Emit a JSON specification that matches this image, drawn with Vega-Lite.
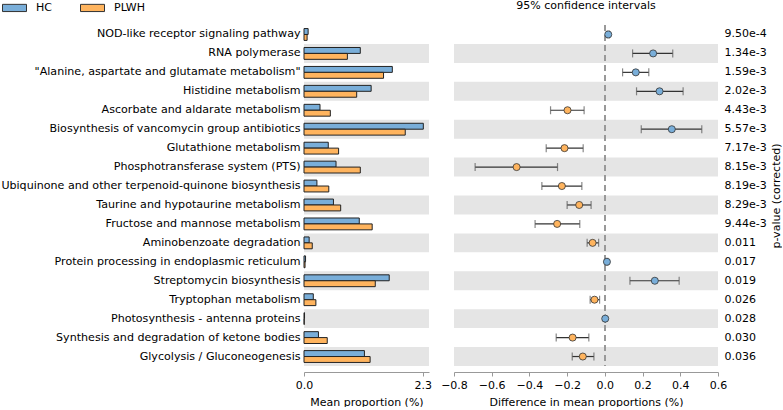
{
  "$schema": "https://vega.github.io/schema/vega-lite/v6.json",
  "padding": 0,
  "bounds": "flush",
  "config": {
    "font": "DejaVu Sans",
    "view": {"stroke": null},
    "concat": {"spacing": 25},
    "axis": {"labelColor": "#000", "titleColor": "#000", "labelFontSize": 11, "titleFontSize": 11, "titleFontWeight": "normal", "grid": false, "domainColor": "#999", "tickColor": "#999", "labelOverlap": false, "labelFlush": false},
    "legend": {"labelFontSize": 11, "labelColor": "#000"},
    "title": {"fontSize": 11, "fontWeight": "normal", "color": "#000"}
  },
  "datasets": {
    "d": [
      {"rank": 1, "pathway": "NOD-like receptor signaling pathway", "HC": 0.08, "PLWH": 0.06, "diff": 0.018, "lo": 0.012, "hi": 0.024, "p": "9.50e-4", "enriched": "HC"},
      {"rank": 2, "pathway": "RNA polymerase", "HC": 1.09, "PLWH": 0.84, "diff": 0.256, "lo": 0.147, "hi": 0.36, "p": "1.34e-3", "enriched": "HC"},
      {"rank": 3, "pathway": "\"Alanine, aspartate and glutamate metabolism\"", "HC": 1.71, "PLWH": 1.54, "diff": 0.164, "lo": 0.094, "hi": 0.233, "p": "1.59e-3", "enriched": "HC"},
      {"rank": 4, "pathway": "Histidine metabolism", "HC": 1.30, "PLWH": 1.02, "diff": 0.29, "lo": 0.168, "hi": 0.415, "p": "2.02e-3", "enriched": "HC"},
      {"rank": 5, "pathway": "Ascorbate and aldarate metabolism", "HC": 0.31, "PLWH": 0.51, "diff": -0.198, "lo": -0.288, "hi": -0.11, "p": "4.43e-3", "enriched": "PLWH"},
      {"rank": 6, "pathway": "Biosynthesis of vancomycin group antibiotics", "HC": 2.31, "PLWH": 1.96, "diff": 0.355, "lo": 0.193, "hi": 0.514, "p": "5.57e-3", "enriched": "HC"},
      {"rank": 7, "pathway": "Glutathione metabolism", "HC": 0.47, "PLWH": 0.67, "diff": -0.214, "lo": -0.311, "hi": -0.115, "p": "7.17e-3", "enriched": "PLWH"},
      {"rank": 8, "pathway": "Phosphotransferase system (PTS)", "HC": 0.62, "PLWH": 1.09, "diff": -0.468, "lo": -0.688, "hi": -0.251, "p": "8.15e-3", "enriched": "PLWH"},
      {"rank": 9, "pathway": "Ubiquinone and other terpenoid-quinone biosynthesis", "HC": 0.25, "PLWH": 0.48, "diff": -0.228, "lo": -0.334, "hi": -0.122, "p": "8.19e-3", "enriched": "PLWH"},
      {"rank": 10, "pathway": "Taurine and hypotaurine metabolism", "HC": 0.57, "PLWH": 0.71, "diff": -0.136, "lo": -0.2, "hi": -0.073, "p": "8.29e-3", "enriched": "PLWH"},
      {"rank": 11, "pathway": "Fructose and mannose metabolism", "HC": 1.07, "PLWH": 1.32, "diff": -0.253, "lo": -0.37, "hi": -0.133, "p": "9.44e-3", "enriched": "PLWH"},
      {"rank": 12, "pathway": "Aminobenzoate degradation", "HC": 0.10, "PLWH": 0.16, "diff": -0.065, "lo": -0.094, "hi": -0.033, "p": "0.011", "enriched": "PLWH"},
      {"rank": 13, "pathway": "Protein processing in endoplasmic reticulum", "HC": 0.03, "PLWH": 0.02, "diff": 0.011, "lo": 0.006, "hi": 0.016, "p": "0.017", "enriched": "HC"},
      {"rank": 14, "pathway": "Streptomycin biosynthesis", "HC": 1.65, "PLWH": 1.38, "diff": 0.265, "lo": 0.133, "hi": 0.394, "p": "0.019", "enriched": "HC"},
      {"rank": 15, "pathway": "Tryptophan metabolism", "HC": 0.18, "PLWH": 0.23, "diff": -0.055, "lo": -0.078, "hi": -0.028, "p": "0.026", "enriched": "PLWH"},
      {"rank": 16, "pathway": "Photosynthesis - antenna proteins", "HC": 0.01, "PLWH": 0.005, "diff": 0.002, "lo": 0.001, "hi": 0.003, "p": "0.028", "enriched": "HC"},
      {"rank": 17, "pathway": "Synthesis and degradation of ketone bodies", "HC": 0.28, "PLWH": 0.45, "diff": -0.171, "lo": -0.258, "hi": -0.085, "p": "0.030", "enriched": "PLWH"},
      {"rank": 18, "pathway": "Glycolysis / Gluconeogenesis", "HC": 1.17, "PLWH": 1.28, "diff": -0.117, "lo": -0.173, "hi": -0.058, "p": "0.036", "enriched": "PLWH"}
    ]
  },
  "data": {"name": "d"},
  "hconcat": [
    {
      "width": 125,
      "height": 341,
      "encoding": {
        "y": {
          "field": "pathway", "type": "nominal",
          "sort": {"field": "rank", "op": "min", "order": "ascending"},
          "scale": {"paddingInner": 0, "paddingOuter": 0},
          "axis": {"title": null, "domain": false, "ticks": false, "labelPadding": 4, "labelLimit": 0, "labelFontSize": 11.1}
        }
      },
      "layer": [
        {
          "transform": [{"filter": "datum.rank % 2 == 0"}],
          "mark": {"type": "rect", "color": "#e5e5e5"},
          "encoding": {
            "x": {"datum": 0, "type": "quantitative"},
            "x2": {"datum": 2.42}
          }
        },
        {
          "transform": [{"fold": ["HC", "PLWH"], "as": ["group", "value"]}],
          "mark": {"type": "bar", "stroke": "#222", "strokeWidth": 1, "opacity": 1},
          "encoding": {
            "x": {
              "field": "value", "type": "quantitative",
              "scale": {"domain": [0, 2.42], "nice": false, "zero": true},
              "axis": {"title": "Mean proportion (%)", "values": [0, 2.3], "tickCount": 20, "format": ".1f", "offset": 6, "tickSize": 4, "labelPadding": 3, "titlePadding": 6}
            },
            "yOffset": {"field": "group", "type": "nominal", "scale": {"domain": ["HC", "PLWH"], "paddingInner": 0, "paddingOuter": 0.6}},
            "color": {
              "field": "group", "type": "nominal",
              "scale": {"domain": ["HC", "PLWH"], "range": ["#79aed9", "#ffb45e"]},
              "legend": {"title": null, "orient": "none", "legendX": -296, "legendY": -24, "direction": "horizontal", "symbolType": "M-2,-0.6H2V0.6H-2Z", "symbolSize": 144, "symbolStrokeColor": "#222", "symbolStrokeWidth": 1, "symbolOpacity": 1, "labelOffset": 15, "columnPadding": 26, "padding": 0}
            }
          }
        }
      ]
    },
    {
      "width": 264,
      "height": 341,
      "title": {"text": "95% confidence intervals", "offset": 13},
      "encoding": {
        "y": {
          "field": "p", "type": "nominal",
          "sort": {"field": "rank", "op": "min", "order": "ascending"},
          "scale": {"paddingInner": 0, "paddingOuter": 0},
          "axis": {"orient": "right", "title": "p-value (corrected)", "titleAngle": 270, "titleBaseline": "top", "domain": false, "ticks": false, "labelPadding": 6, "titlePadding": 4}
        }
      },
      "layer": [
        {
          "transform": [{"filter": "datum.rank % 2 == 0"}],
          "mark": {"type": "rect", "color": "#e5e5e5"},
          "encoding": {
            "x": {"datum": -0.8, "type": "quantitative"},
            "x2": {"datum": 0.6}
          }
        },
        {
          "mark": {"type": "rule", "color": "#999", "strokeWidth": 1.5, "strokeDash": [6, 4]},
          "encoding": {"x": {"datum": 0, "type": "quantitative"}, "y": null}
        },
        {
          "mark": {"type": "rule", "color": "#333", "strokeWidth": 1.2},
          "encoding": {
            "x": {"field": "lo", "type": "quantitative"},
            "x2": {"field": "hi"}
          }
        },
        {
          "mark": {"type": "tick", "color": "#555", "thickness": 1.2, "size": 8},
          "encoding": {"x": {"field": "lo", "type": "quantitative"}}
        },
        {
          "mark": {"type": "tick", "color": "#555", "thickness": 1.2, "size": 8},
          "encoding": {"x": {"field": "hi", "type": "quantitative"}}
        },
        {
          "mark": {"type": "circle", "size": 50, "stroke": "#333", "strokeWidth": 0.8, "opacity": 1},
          "encoding": {
            "x": {
              "field": "diff", "type": "quantitative",
              "scale": {"domain": [-0.8, 0.6], "nice": false, "zero": false},
              "axis": {"title": "Difference in mean proportions (%)", "values": [-0.8, -0.6, -0.4, -0.2, 0, 0.2, 0.4, 0.6], "tickCount": 20, "format": ".1f", "offset": 6, "tickSize": 4, "labelPadding": 3, "titlePadding": 6}
            },
            "color": {"field": "enriched", "type": "nominal"}
          }
        }
      ]
    }
  ]
}
